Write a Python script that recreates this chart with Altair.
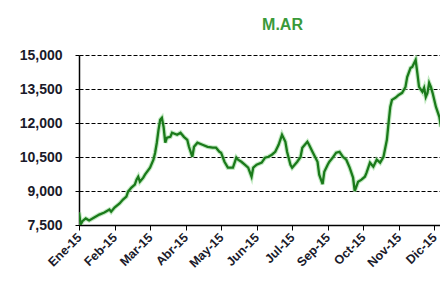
import altair as alt
import pandas as pd

# trading-day index and index value (M.AR)
days = [0, 1, 2, 4, 6, 9, 12, 15, 18, 19, 21, 24, 26, 28, 29, 31, 33, 34, 35, 36, 38, 39,
        42, 44, 45, 46, 47, 48, 49, 50, 51, 52, 54, 55, 58, 60, 62, 64, 65, 67, 68, 70,
        73, 76, 79, 81, 83, 84, 86, 88, 91, 93, 94, 96, 98, 100, 102, 103, 105, 108, 110,
        112, 114, 116, 118, 120, 122, 123, 125, 126, 129, 131, 132, 135, 136, 138, 141,
        142, 144, 145, 147, 148, 150, 152, 154, 156, 158, 160, 162, 163, 165, 167, 169,
        170, 172, 174, 176, 178, 180, 182, 183, 184, 185, 187, 189, 191, 193, 194, 196,
        197, 199, 200, 201, 203, 204, 205, 206, 207, 208, 209, 211, 213, 214, 216, 218]
values = [8050, 7520, 7670, 7790, 7700, 7830, 7960, 8050, 8180, 8090, 8270, 8450, 8620, 8750,
          8970, 9150, 9280, 9500, 9630, 9410, 9590, 9720,
          10030, 10380, 10690, 11130, 11700, 12140, 12230, 11830, 11130, 11350, 11390, 11570,
          11480, 11570, 11390, 11260, 10950, 10510, 10950, 11130,
          11040, 10950, 10910, 10910, 10730, 10690, 10290, 10030, 10030, 10470, 10380, 10290,
          10160, 10030, 9630, 10030, 10160, 10250, 10470,
          10510, 10600, 10730, 11040, 11480, 11170, 10730, 10160, 10030, 10290, 10510, 10910,
          11170, 11040, 10730, 10290,
          9720, 9300, 9850, 10160, 10290, 10470, 10690, 10730, 10510, 10380, 10030, 9590,
          9000, 9410, 9500, 9630,
          9810, 10250, 10070, 10380, 10250, 10510, 11260, 12010, 12710, 13020, 13110, 13240,
          13330, 13590, 14030, 14430,
          14470, 14780, 14210, 13590, 13370, 13550, 13150, 13330, 13770, 13590, 13330, 12710,
          12270, 11830, 12270, 12580]

tick_days = [0, 21, 42, 63, 84, 105, 126, 147, 168, 189, 210]
tick_labels = ["Ene-15", "Feb-15", "Mar-15", "Abr-15", "May-15", "Jun-15",
               "Jul-15", "Sep-15", "Oct-15", "Nov-15", "Dic-15"]
y_ticks = [7500, 9000, 10500, 12000, 13500, 15000]

df = pd.DataFrame({"d": days, "v": values})

label_arr = "[" + ",".join("'%s'" % s for s in tick_labels) + "]"

x = alt.X("d:Q",
          scale=alt.Scale(domain=[0, 213.4], nice=False, zero=False),
          axis=alt.Axis(values=tick_days, title=None, grid=False,
                        labelExpr=label_arr + "[round(datum.value/21)]",
                        labelAngle=-45, labelAlign="right", labelBaseline="middle",
                        labelFont="Liberation Sans", labelFontWeight="bold",
                        labelFontSize=12.5, labelColor="#1a1a2a", labelPadding=5,
                        tickColor="black", tickSize=5, domainColor="black",
                        domainWidth=1.5, labelOverlap=False))
y = alt.Y("v:Q",
          scale=alt.Scale(domain=[7500, 15000], nice=False, zero=False),
          axis=alt.Axis(values=y_ticks, title=None, format=",.0f",
                        grid=True, gridColor="black", gridDash=[4, 2], gridWidth=1,
                        labelFont="Liberation Sans", labelFontWeight="bold",
                        labelFontSize=14, labelColor="#1a1a2a", labelPadding=13,
                        tickColor="black", tickSize=4, domainColor="black",
                        domainWidth=1.5))

base = alt.Chart(df)
halo = base.mark_line(color="#9ada9a", strokeWidth=4.5, opacity=0.6, clip=True).encode(x=x, y=y)
line = base.mark_line(color="#1a7a1a", strokeWidth=2.3, clip=True).encode(x=x, y=y)

chart = alt.layer(halo, line).properties(
    width=361, height=170,
    title=alt.TitleParams("M.AR", color="#3a9a3a", font="Liberation Sans",
                          fontSize=16, fontWeight="bold", offset=15, dx=23),
    autosize=alt.AutoSizeParams(type="none"),
    padding={"left": 71, "top": 47, "right": 0, "bottom": 50},
    background="white",
).configure_view(stroke=None)

chart.save("out.html", embed_options={"renderer": "svg", "actions": False})
